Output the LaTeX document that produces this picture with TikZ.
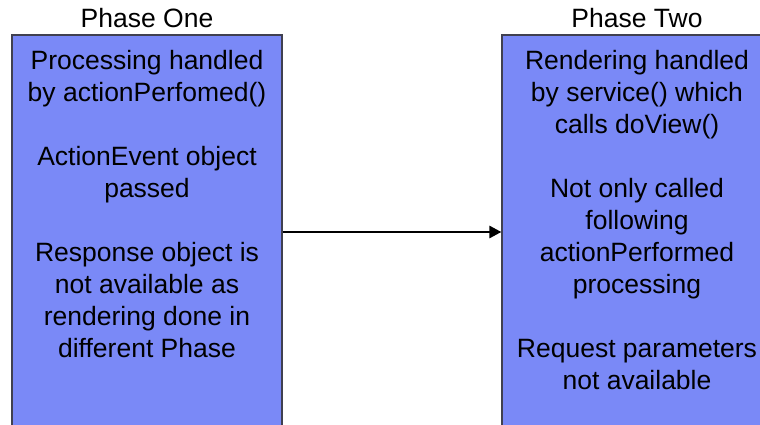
\documentclass[tikz,border=0pt]{standalone}
\usepackage{fontspec}
\setmainfont{Liberation Sans}
\usetikzlibrary{arrows.meta}
\definecolor{phasefill}{RGB}{122,137,247}
\definecolor{phaseedge}{RGB}{64,64,80}
\begin{document}
\begin{tikzpicture}[x=1pt,y=1pt,
  phasebox/.style={draw=phaseedge, line width=1.2pt, fill=phasefill,
    minimum width=270pt, minimum height=394pt, inner sep=0pt},
  bodytext/.style={align=center, inner sep=0pt, anchor=base,
    font=\fontsize{26.5}{32}\selectfont},
  titletext/.style={inner sep=0pt, anchor=base,
    font=\fontsize{26.5}{32}\selectfont},
  flow/.style={line width=2.6pt, -{Triangle[length=12pt,width=12pt]}}]
\useasboundingbox (0,0) rectangle (760,424);
\begin{scope}
\clip (0,0) rectangle (760,424);
% the two phase panels run off the lower edge
\node[phasebox] (one) at (147,192) {};
\node[phasebox] (two) at (637,192) {};
\end{scope}
\node[titletext] (onetitle) at (147,396) {Phase One};
\node[titletext] (twotitle) at (637,396) {Phase Two};
% the base anchor of a multi-line node is its last line
\node[bodytext] (onetext) at (147,67) {Processing handled\\
  by actionPerfomed()\\[32pt]
  ActionEvent object\\ passed\\[32pt]
  Response object is\\ not available as\\ rendering done in\\ different Phase};
\node[bodytext] (twotext) at (637,35) {Rendering handled\\
  by service() which\\ calls doView()\\[32pt]
  Not only called\\ following\\ actionPerformed\\ processing\\[32pt]
  Request parameters\\ not available};
\draw[flow] (one.east) -- (two.west);
\end{tikzpicture}
\end{document}
